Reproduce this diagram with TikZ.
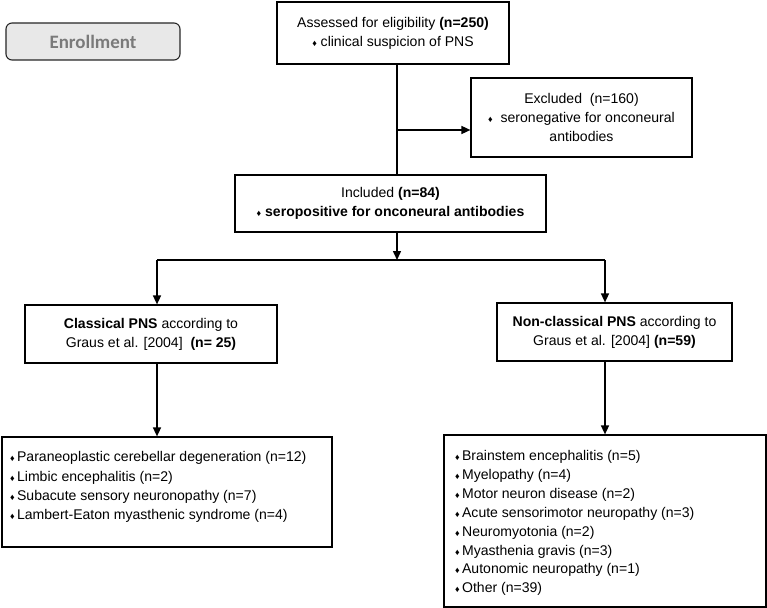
\documentclass[tikz,border=0pt]{standalone}
\usepackage{fontspec}
\setmainfont{Liberation Sans}
\newfontfamily\enrollfont{Carlito}
\usetikzlibrary{arrows.meta}
\newcommand{\dm}{{\fontsize{9}{9}\selectfont ♦}}
\tikzset{
  box/.style={draw, line width=1.2bp, inner sep=0pt, align=center},
  conn/.style={line width=1.5bp},
  arr/.style={conn, -{Triangle[length=9bp,width=8bp]}},
  every node/.style={font=\fontsize{14.1}{19.2}\selectfont}
}
\begin{document}
\begin{tikzpicture}[x=1bp,y=-1bp]
\useasboundingbox (0,0) rectangle (767,608);
\node[draw=black!85, line width=1.1bp, fill=black!9, rounded corners=6bp, minimum width=174bp, minimum height=37bp, text=black!52, font=\enrollfont\bfseries\fontsize{19}{20}\selectfont] (enroll) at (93,41.5) {Enrollment};
\node[box, minimum width=232bp, minimum height=62bp] (assess) at (393,33) {Assessed for eligibility \textbf{(n=250)}\\ \dm\ clinical suspicion of PNS};
\node[box, minimum width=221bp, minimum height=79bp] (excl) at (581.5,117.5) {Excluded\ \ (n=160)\\ \dm\ \ seronegative for onconeural\\ antibodies};
\node[box, minimum width=311bp, minimum height=57bp] (incl) at (390.5,203.5) {Included \textbf{(n=84)}\\ \dm\ \textbf{seropositive for onconeural antibodies}};
\node[box, minimum width=252bp, minimum height=58bp] (class) at (151,334) {\textbf{Classical PNS} according to\\ Graus et al. [2004]\ \ \textbf{(n= 25)}};
\node[box, minimum width=235bp, minimum height=58bp] (nonclass) at (614.5,332) {\textbf{Non-classical PNS} according to\\ Graus et al. [2004] \textbf{(n=59)}};
\node[box, minimum width=330bp, minimum height=110bp] (list1) at (167,492) {};
\node[anchor=north west, inner sep=0pt, align=left] (list1t) at (10,451.5) {\dm\,Paraneoplastic cerebellar degeneration (n=12)\\ \dm\,Limbic encephalitis (n=2)\\ \dm\,Subacute sensory neuronopathy (n=7)\\ \dm\,Lambert-Eaton myasthenic syndrome (n=4)};
\node[box, minimum width=322bp, minimum height=172bp] (list2) at (605,521) {};
\node[anchor=north west, inner sep=0pt, align=left, font=\fontsize{14.1}{18.9}\selectfont] (list2t) at (455,450.5) {\dm\,Brainstem encephalitis (n=5)\\ \dm\,Myelopathy (n=4)\\ \dm\,Motor neuron disease (n=2)\\ \dm\,Acute sensorimotor neuropathy (n=3)\\ \dm\,Neuromyotonia (n=2)\\ \dm\,Myasthenia gravis (n=3)\\ \dm\,Autonomic neuropathy (n=1)\\ \dm\,Other (n=39)};
\coordinate (trunk) at (397,130);
\coordinate (split) at (397,260);
\coordinate (sl) at (157,260);
\coordinate (sr) at (605,260);
\draw[conn] (assess.south -| trunk) -- (incl.north -| trunk);
\draw[arr] (trunk) -- (excl.west |- trunk);
\draw[arr] (incl.south -| trunk) -- (split);
\draw[conn] (sl) -- (sr);
\draw[arr] (sl) -- (class.north -| sl);
\draw[arr] (sr) -- (nonclass.north -| sr);
\draw[arr] (class.south -| sl) -- (list1.north -| sl);
\draw[arr] (nonclass.south -| sr) -- (list2.north -| sr);
\end{tikzpicture}
\end{document}
